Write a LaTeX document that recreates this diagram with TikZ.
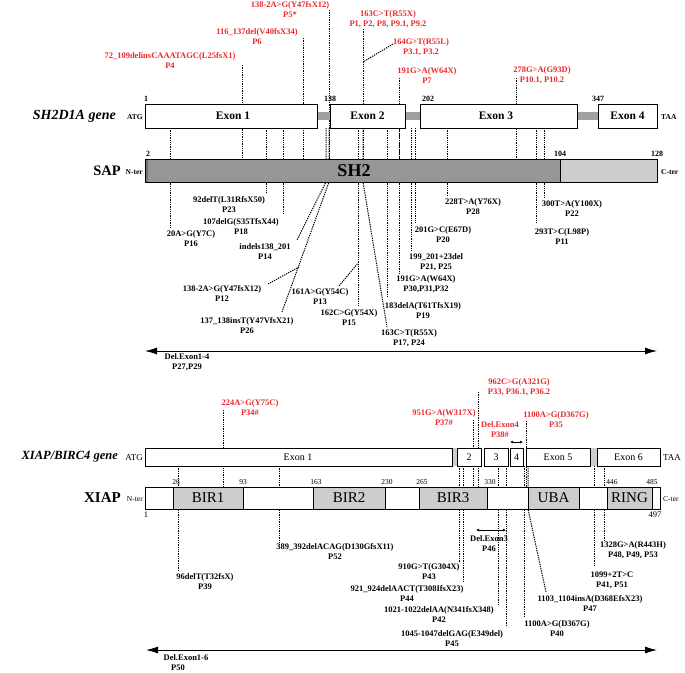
\documentclass[tikz,border=0pt]{standalone}
\usepackage{fontspec}
\setmainfont{Liberation Serif}
\usetikzlibrary{arrows.meta}
\definecolor{myred}{RGB}{235,40,45}
\definecolor{sapdark}{RGB}{150,150,150}
\definecolor{saplight}{RGB}{205,205,205}
\definecolor{intron}{RGB}{160,160,160}
\definecolor{domfill}{RGB}{205,205,205}
\definecolor{xintron}{RGB}{205,205,205}
\begin{document}
\begin{tikzpicture}[x=1pt,y=-1pt,
  lbl/.style={font=\bfseries\fontsize{8.5}{10}\selectfont, align=center, inner sep=0pt},
  rlbl/.style={lbl, text=myred},
  mut/.style={line width=1pt, dash pattern=on 1.3pt off 1pt},
  gbox/.style={draw, fill=white, line width=0.7pt},
  exl/.style={font=\bfseries\fontsize{11.5}{12}\selectfont, inner sep=0pt},
  xexl/.style={font=\fontsize{10}{11}\selectfont, inner sep=0pt},
  smallb/.style={font=\bfseries\fontsize{7.5}{8}\selectfont, inner sep=0pt},
  smallr/.style={font=\fontsize{7.5}{8}\selectfont, inner sep=0pt},
  numb/.style={font=\bfseries\fontsize{8}{9}\selectfont, inner sep=0pt},
  numr/.style={font=\fontsize{7.5}{8}\selectfont, inner sep=0pt},
  gname/.style={font=\bfseries\itshape\fontsize{14}{15}\selectfont, inner sep=0pt},
  pname/.style={font=\bfseries\fontsize{14.5}{15}\selectfont, inner sep=0pt},
  dom/.style={font=\fontsize{15}{16}\selectfont, inner sep=0pt},
  bigarrow/.style={{Latex[length=12pt,width=7pt]}-{Latex[length=12pt,width=7pt]}, line width=0.9pt},
  smallarrow/.style={{Latex[length=3pt,width=3pt]}-{Latex[length=3pt,width=3pt]}, line width=0.6pt}]
\useasboundingbox (0,0) rectangle (685,672);

% ================= SH2D1A mutation lines =================
% top (red) mutations
\draw[mut] (242,65) -- (242,159);
\draw[mut] (303,38) -- (303,159);
\draw[mut] (329,10) -- (329,159);
\draw[mut] (363,29) -- (363,159);
\draw[mut] (393,44) -- (363,62);
\draw[mut] (399,78) -- (399,159);
\draw[mut] (516,78) -- (516,159);
% bottom (black) mutations
\draw[mut] (170,128) -- (170,228);
\draw[mut] (266,128) -- (266,193);
\draw[mut] (283,128) -- (283,215);
\draw[mut] (326,128) -- (326,182) -- (297,240);
\draw[mut] (329,128) -- (329,182) -- (282,312);
\draw[mut] (268,284) -- (299,267);
\draw[mut] (358,128) -- (358,307);
\draw[mut] (339,286) -- (358,263);
\draw[mut] (363,128) -- (363,182) -- (387,327);
\draw[mut] (387,128) -- (387,298);
\draw[mut] (399,128) -- (399,275);
\draw[mut] (411,128) -- (411,250);
\draw[mut] (415,128) -- (415,223);
\draw[mut] (447,128) -- (447,195);
\draw[mut] (536,128) -- (536,223);
\draw[mut] (544,128) -- (544,198);

% ================= SH2D1A gene =================
\fill[intron] (317,112) rectangle (330,120);
\fill[intron] (405,112) rectangle (420,120);
\fill[intron] (577,112) rectangle (598,120);
\draw[gbox] (145,104) rectangle (317,128);
\draw[gbox] (330,104) rectangle (405,128);
\draw[gbox] (420,104) rectangle (577,128);
\draw[gbox] (598,104) rectangle (657,128);
\node[exl] (e1) at (233,116) {Exon 1};
\node[exl] (e2) at (367.5,116) {Exon 2};
\node[exl] (e3) at (496,116) {Exon 3};
\node[exl] (e4) at (627.5,116) {Exon 4};
\node[gname, anchor=east] (gene1) at (116,116) {SH2D1A gene};
\node[smallb, anchor=east] (atg1) at (143,117) {ATG};
\node[smallb, anchor=west] (taa1) at (661,117) {TAA};
\node[numb] (n1) at (146,99) {1};
\node[numb] (n138) at (330,99) {138};
\node[numb] (n202) at (428,99) {202};
\node[numb] (n347) at (598,99) {347};

% ================= SAP protein =================
\fill[sapdark] (145,159) rectangle (560,182);
\fill[saplight] (560,159) rectangle (657,182);
\fill[black!55] (145,159) rectangle (148,182);
\draw[line width=0.8pt] (145,159) rectangle (657,182);
\draw[line width=0.8pt] (560,159) -- (560,182);
\node[font=\bfseries\fontsize{18}{19}\selectfont, inner sep=0pt] (sh2) at (354,171) {SH2};
\node[pname, anchor=east] (sap) at (121,171) {SAP};
\node[smallb, anchor=east] (nter1) at (143,172) {N-ter};
\node[smallb, anchor=west] (cter1) at (661,172) {C-ter};
\node[numb] (p2) at (148,154) {2};
\node[numb] (p104) at (560,154) {104};
\node[numb] (p128) at (657,154) {128};

% ================= SH2D1A labels =================
\node[rlbl] (r4) at (170,61) {72\_109delinsCAAATAGC(L25fsX1)\\P4};
\node[rlbl] (r6) at (257,37) {116\_137del(V40fsX34)\\P6};
\node[rlbl] (r5) at (290,9.5) {138-2A>G(Y47fsX12)\\P5*};
\node[rlbl] (r1) at (388,19) {163C>T(R55X)\\P1, P2, P8, P9.1, P9.2};
\node[rlbl] (r3) at (421,47.5) {164G>T(R55L)\\P3.1, P3.2};
\node[rlbl] (r7) at (427,76) {191G>A(W64X)\\P7};
\node[rlbl] (r10) at (542,75) {278G>A(G93D)\\P10.1, P10.2};

\node[lbl] (b16) at (191,239) {20A>G(Y7C)\\P16};
\node[lbl] (b23) at (229,205) {92delT(L31RfsX50)\\P23};
\node[lbl] (b18) at (241,227) {107delG(S35TfsX44)\\P18};
\node[lbl] (b14) at (265,252) {indels138\_201\\P14};
\node[lbl] (b12) at (222,294) {138-2A>G(Y47fsX12)\\P12};
\node[lbl] (b26) at (247,326) {137\_138insT(Y47VfsX21)\\P26};
\node[lbl] (b13) at (320,297) {161A>G(Y54C)\\P13};
\node[lbl] (b15) at (349,317.5) {162C>G(Y54X)\\P15};
\node[lbl] (b17) at (409,338) {163C>T(R55X)\\P17, P24};
\node[lbl] (b19) at (423,311) {183delA(T61TfsX19)\\P19};
\node[lbl] (b30) at (426,284) {191G>A(W64X)\\P30,P31,P32};
\node[lbl] (b21) at (436,262) {199\_201+23del\\P21, P25};
\node[lbl] (b20) at (443,234.5) {201G>C(E67D)\\P20};
\node[lbl] (b28) at (473,207) {228T>A(Y76X)\\P28};
\node[lbl] (b11) at (562,237) {293T>C(L98P)\\P11};
\node[lbl] (b22) at (572,209) {300T>A(Y100X)\\P22};

\coordinate (d14a) at (145,351);
\coordinate (d14b) at (657,351);
\draw[bigarrow] (d14a) -- (d14b);
\node[lbl] (d14) at (187,362.5) {Del.Exon1-4\\P27,P29};

% ================= XIAP mutation lines =================
\draw[mut] (223,410) -- (223,487);
\draw[mut] (473,420) -- (473,487);
\draw[mut] (478,392) -- (478,487);
\draw[mut] (526,421) -- (526,487);
\draw[mut] (178,466) -- (178,571);
\draw[mut] (279,466) -- (279,543);
\draw[mut] (459,466) -- (459,562);
\draw[mut] (463,466) -- (463,582);
\draw[mut] (498,466) -- (498,605);
\draw[mut] (506,466) -- (506,627);
\draw[mut] (524,466) -- (524,617);
\draw[mut] (528,466) -- (528,509) -- (546,592);
\draw[mut] (594,466) -- (594,567);
\draw[mut] (604,466) -- (604,540);

% ================= XIAP gene =================
\fill[xintron] (452,448) rectangle (457,466);
\fill[xintron] (590,448) rectangle (597,466);
\draw[gbox] (145,448) rectangle (452,466);
\draw[gbox] (457,448) rectangle (481,466);
\draw[gbox] (484,448) rectangle (508,466);
\draw[gbox] (510,448) rectangle (523,466);
\draw[gbox] (526,448) rectangle (590,466);
\draw[gbox] (597,448) rectangle (660,466);
\node[xexl] (x1) at (298,457) {Exon 1};
\node[xexl] (x2) at (469,457) {2};
\node[xexl] (x3) at (496,457) {3};
\node[xexl] (x4) at (516.5,457) {4};
\node[xexl] (x5) at (558,457) {Exon 5};
\node[xexl] (x6) at (628.5,457) {Exon 6};
\node[gname, font=\bfseries\itshape\fontsize{12.5}{13}\selectfont, anchor=east] (gene2) at (118,457) {XIAP/BIRC4 gene};
\node[font=\fontsize{9}{10}\selectfont, inner sep=0pt, anchor=east] (atg2) at (143,458) {ATG};
\node[font=\fontsize{9}{10}\selectfont, inner sep=0pt, anchor=west] (taa2) at (663,458) {TAA};

% ================= XIAP protein =================
\draw[line width=0.7pt, fill=white] (145,487) rectangle (660,509);
\draw[line width=0.7pt, fill=domfill] (173,487) rectangle (243,509);
\draw[line width=0.7pt, fill=domfill] (313,487) rectangle (385,509);
\draw[line width=0.7pt, fill=domfill] (419,487) rectangle (487,509);
\draw[line width=0.7pt, fill=domfill] (528,487) rectangle (579,509);
\draw[line width=0.7pt, fill=domfill] (607,487) rectangle (652,509);
\node[dom] (bir1) at (208,498) {BIR1};
\node[dom] (bir2) at (349,498) {BIR2};
\node[dom] (bir3) at (453,498) {BIR3};
\node[dom] (uba) at (553.5,498) {UBA};
\node[dom] (ring) at (629.5,498) {RING};
\node[pname, font=\bfseries\fontsize{15}{16}\selectfont, anchor=east] (xiap) at (121,498) {XIAP};
\node[smallr, anchor=east] (nter2) at (143,499) {N-ter};
\node[smallr, anchor=west] (cter2) at (663,499) {C-ter};
\node[numr] at (176,482) {26};
\node[numr] at (243,482) {93};
\node[numr] at (316,482) {163};
\node[numr] at (387,482) {230};
\node[numr] at (422,482) {265};
\node[numr] at (490,482) {330};
\node[numr] at (612,482) {446};
\node[numr] at (652,482) {485};
\node[font=\fontsize{8.5}{9}\selectfont, inner sep=0pt] (x1n) at (146,515) {1};
\node[font=\fontsize{8.5}{9}\selectfont, inner sep=0pt] (x497) at (655,515) {497};

% ================= XIAP labels =================
\node[rlbl] (r34) at (250,408) {224A>G(Y75C)\\P34\#};
\node[rlbl] (r37) at (444,418) {951G>A(W317X)\\P37\#};
\node[rlbl] (r33) at (519,387) {962C>G(A321G)\\P33, P36.1, P36.2};
\node[rlbl] (r38) at (500,430) {Del.Exon4\\P38\#};
\coordinate (de4a) at (510,442);
\coordinate (de4b) at (523,442);
\draw[smallarrow] (de4a) -- (de4b);
\node[rlbl] (r35) at (556,420) {1100A>G(D367G)\\P35};

\node[lbl] (x39) at (205,582) {96delT(T32fsX)\\P39};
\node[lbl] (x52) at (335,552) {389\_392delACAG(D130GfsX11)\\P52};
\coordinate (de3a) at (476,530);
\coordinate (de3b) at (506,530);
\draw[smallarrow] (de3a) -- (de3b);
\node[lbl] (x46) at (489,544) {Del.Exon3\\P46};
\node[lbl] (x48) at (633,550) {1328G>A(R443H)\\P48, P49, P53};
\node[lbl] (x43) at (429,572) {910G>T(G304X)\\P43};
\node[lbl] (x44) at (407,593) {921\_924delAACT(T308IfsX23)\\P44};
\node[lbl] (x42) at (439,614.5) {1021-1022delAA(N341fsX348)\\P42};
\node[lbl] (x45) at (452,639) {1045-1047delGAG(E349del)\\P45};
\node[lbl] (x40) at (557,628.5) {1100A>G(D367G)\\P40};
\node[lbl] (x47) at (590,603) {1103\_1104insA(D368EfsX23)\\P47};
\node[lbl] (x41) at (612,580) {1099+2T>C\\P41, P51};

\coordinate (d16a) at (146,650);
\coordinate (d16b) at (657,650);
\draw[bigarrow] (d16a) -- (d16b);
\node[lbl] (d16) at (186,658) {Del.Exon1-6};
\node[lbl] (d16p) at (178,668) {P50};
\end{tikzpicture}
\end{document}
